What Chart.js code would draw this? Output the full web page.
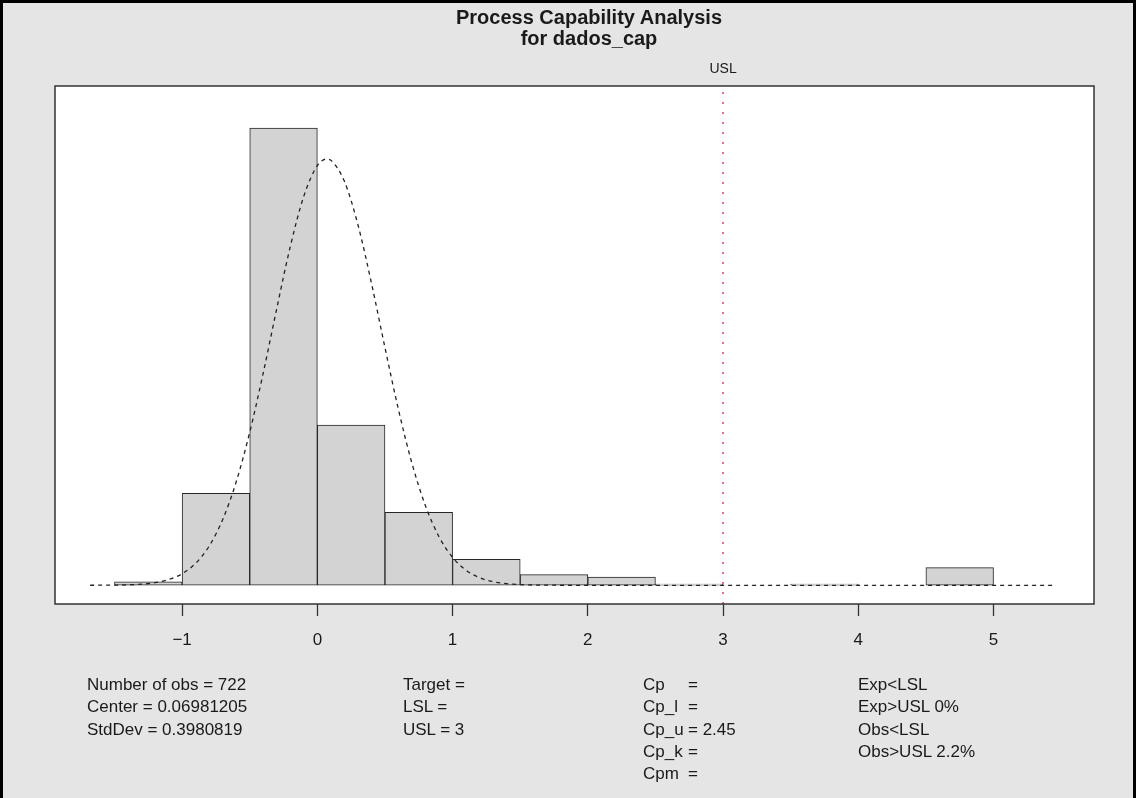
<!DOCTYPE html>
<html>
<head>
<meta charset="utf-8">
<script src="https://cdn.jsdelivr.net/npm/chart.js@4.4.0/dist/chart.umd.min.js"></script>
<style>
  body { margin: 0; background: #e5e5e5; font-family: "Liberation Sans", Arial, sans-serif; color: #1a1a1a; }
  #wrap { position: relative; width: 1136px; height: 798px; overflow: hidden; }
  #frame { position: absolute; left: 0; top: 0; width: 1130px; height: 900px; border: 3px solid #000; }
  #cv { position: absolute; left: 0; top: 0; }
  #title { position: absolute; left: 389px; width: 400px; top: 7px; text-align: center;
           font-weight: bold; font-size: 20px; line-height: 21px; }
  .col { position: absolute; top: 674px; font-size: 17px; line-height: 22.3px; white-space: pre; }
</style>
</head>
<body>
<div id="wrap">
  <div id="frame"></div>
  <canvas id="cv" width="1136" height="798"></canvas>
  <div id="title">Process Capability Analysis<br>for dados_cap</div>
  <div class="col" style="left:87px">Number of obs = 722<br>Center = 0.06981205<br>StdDev = 0.3980819</div>
  <div class="col" style="left:403px">Target =<br>LSL =<br>USL = 3</div>
  <div class="col" style="left:643px">Cp<br>Cp_l<br>Cp_u<br>Cp_k<br>Cpm</div>
  <div class="col" style="left:688px">=<br>=<br>= 2.45<br>=<br>=</div>
  <div class="col" style="left:858px">Exp&lt;LSL<br>Exp&gt;USL 0%<br>Obs&lt;LSL<br>Obs&gt;USL 2.2%</div>
</div>
<script>
// histogram bins (width 0.5) and counts
const binStarts = [-1.5, -1, -0.5, 0, 0.5, 1, 1.5, 2, 2.5, 3, 3.5, 4, 4.5];
const binWidth = 0.5;
const counts = [3, 78, 388, 136, 62, 22, 9, 7, 1, 0, 1, 0, 15];
const nObs = 722;

// dashed normal curve (density)
const curveX = [-1.68, -1.6, -1.5, -1.4, -1.3, -1.2, -1.1, -1.0, -0.9, -0.8, -0.7, -0.6, -0.5, -0.4, -0.3, -0.2, -0.1,
                0, 0.07, 0.1, 0.2, 0.3, 0.4, 0.5, 0.6, 0.7, 0.8, 0.9, 1.0, 1.1, 1.2, 1.3, 1.4, 1.5, 1.6, 1.8, 2.0, 5.45];
const curveY = [0.0001, 0.0002, 0.0004, 0.0011, 0.0027, 0.0062, 0.0134, 0.0271, 0.0516, 0.0921, 0.1545, 0.2433, 0.3599,
                0.4995, 0.6510, 0.7966, 0.9150, 0.9869, 1.0022, 0.9993, 0.9500, 0.8479, 0.7105, 0.5589, 0.4128, 0.2863,
                0.1864, 0.1139, 0.0654, 0.0352, 0.0178, 0.0085, 0.0038, 0.0016, 0.0006, 0.0001, 0, 0];

const xTicks = [-1, 0, 1, 2, 3, 4, 5];
const usl = 3;

const barData = binStarts.map((s, i) => ({ x: s + binWidth / 2, y: counts[i] / (nObs * binWidth) }));
const lineData = curveX.map((x, i) => ({ x: x, y: curveY[i] }));

const plotFrame = {
    id: 'plotFrame',
    beforeDraw(chart) {
        const { ctx, chartArea: a } = chart;
        ctx.save();
        ctx.fillStyle = '#ffffff';
        ctx.fillRect(a.left, a.top, a.width, a.height);
        ctx.restore();
    },
    afterDatasetsDraw(chart) {
        const { ctx, chartArea: a, scales: { x } } = chart;
        const px = x.getPixelForValue(usl);
        ctx.save();
        ctx.strokeStyle = '#f0406a';
        ctx.lineWidth = 1.6;
        ctx.setLineDash([2, 8]);
        ctx.beginPath();
        ctx.moveTo(px, a.top + 6);
        ctx.lineTo(px, a.bottom);
        ctx.stroke();
        ctx.setLineDash([]);
        ctx.fillStyle = '#1a1a1a';
        ctx.font = '14px "Liberation Sans"';
        ctx.textAlign = 'center';
        ctx.fillText('USL', px, a.top - 13);
        ctx.strokeStyle = '#333333';
        ctx.lineWidth = 1.5;
        ctx.strokeRect(a.left, a.top, a.width, a.height);
        ctx.restore();
    }
};

new Chart(document.getElementById('cv').getContext('2d'), {
    type: 'bar',
    data: {
        datasets: [{
            type: 'line',
            data: lineData,
            borderColor: '#222222',
            borderWidth: 1.3,
            borderDash: [4, 4],
            pointRadius: 0,
            fill: false,
            cubicInterpolationMode: 'monotone',
            order: 0
        }, {
            type: 'bar',
            data: barData,
            backgroundColor: '#d3d3d3',
            borderColor: '#262626',
            borderWidth: 1,
            borderSkipped: false,
            barPercentage: 1,
            categoryPercentage: 1,
            order: 1
        }]
    },
    options: {
        responsive: false,
        animation: false,
        layout: { padding: { left: 55, right: 42, top: 86, bottom: 144 } },
        plugins: { legend: { display: false }, tooltip: { enabled: false } },
        scales: {
            x: {
                type: 'linear',
                min: -1.94,
                max: 5.743,
                offset: false,
                afterBuildTicks: function(scale) {
                    scale.ticks = xTicks.map(v => ({ value: v }));
                },
                afterFit: function(scale) {
                    scale.height = 50;
                },
                grid: { display: true, offset: false, drawOnChartArea: false, drawTicks: true, tickLength: 12,
                        tickColor: '#333333', tickWidth: 1.3 },
                border: { display: false },
                ticks: {
                    autoSkip: false,
                    maxRotation: 0,
                    padding: 14,
                    color: '#1a1a1a',
                    font: { size: 17, family: '"Liberation Sans", Arial, sans-serif' },
                    callback: function(value) {
                        return String(value).replace('-', '\u2212');
                    }
                }
            },
            y: { display: false, min: -0.044, max: 1.174 }
        }
    },
    plugins: [plotFrame]
});
</script>
</body>
</html>
